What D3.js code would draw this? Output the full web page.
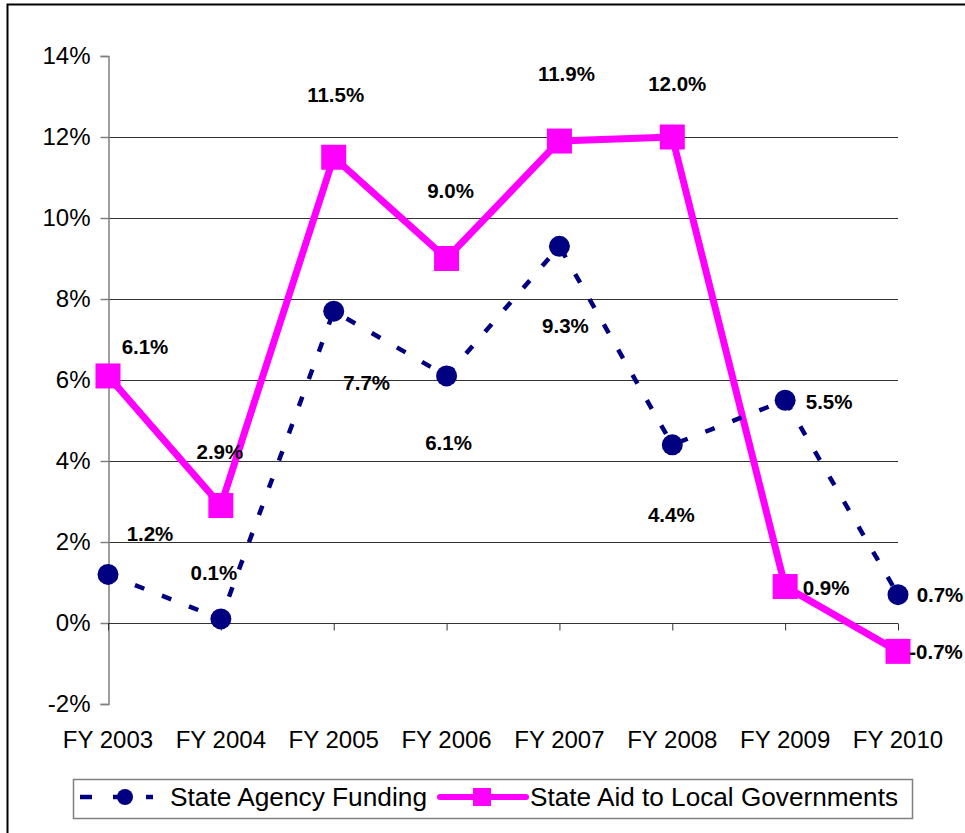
<!DOCTYPE html>
<html>
<head>
<meta charset="utf-8">
<script src="https://d3js.org/d3.v7.min.js"></script>
<style>
  body { margin: 0; background: #fff; }
  svg { display: block; font-family: Arial, "Liberation Sans", sans-serif; }
</style>
</head>
<body>
<svg></svg>
<script>
// data
var years = ['FY 2003', 'FY 2004', 'FY 2005', 'FY 2006', 'FY 2007', 'FY 2008', 'FY 2009', 'FY 2010'];
var agency = [0.012, 0.001, 0.077, 0.061, 0.093, 0.044, 0.055, 0.007];
var localAid = [0.061, 0.029, 0.115, 0.090, 0.119, 0.120, 0.009, -0.007];
var yTicks = [-0.02, 0, 0.02, 0.04, 0.06, 0.08, 0.10, 0.12, 0.14];
var seriesNames = ['State Agency Funding', 'State Aid to Local Governments'];

// where each data label sits relative to its point (px)
var agencyLabelOff = [[42, -41], [-7, -46], [33, 71], [2, 67], [6, 79], [-1, 70], [44, 1], [42, 0]];
var aidLabelOff = [[37, -29], [-1, -54], [2, -63], [4, -68], [7, -67], [5, -53], [41, 1], [38, 0]];

var W = 965, H = 833;
var navy = '#000080', pink = '#ff00ff';

// plain hyphen for negatives, like the original
var loc = d3.formatLocale({decimal: '.', thousands: ',', grouping: [3], currency: ['$', ''], minus: '-'});
var pct0 = loc.format('.0%'), pct1 = loc.format('.1%');

var svg = d3.select('svg').attr('width', W).attr('height', H);

// outer frame (runs off the right/bottom)
svg.append('rect')
    .attr('x', 7.5).attr('y', 4.5)
    .attr('width', 1200).attr('height', 1200)
    .attr('fill', 'none').attr('stroke', '#000').attr('stroke-width', 2);

var x = d3.scalePoint().domain(years).range([108, 898]);
var y = d3.scaleLinear().domain([-0.02, 0.14]).range([704, 56]);

// gridlines (not at top / bottom)
svg.selectAll('.grid')
    .data(yTicks.filter(function(d) { return d > 0.001 && d < 0.13; }))
    .enter().append('line')
    .attr('class', 'grid')
    .attr('x1', 108).attr('x2', 898)
    .attr('y1', function(d) { return Math.round(y(d)) + 0.5; })
    .attr('y2', function(d) { return Math.round(y(d)) + 0.5; })
    .attr('stroke', '#333').attr('stroke-width', 1);

// y axis
var yAxis = svg.append('g')
    .attr('transform', 'translate(108.5,0)')
    .call(d3.axisLeft(y).tickValues(yTicks).tickSize(8).tickPadding(10)
      .tickFormat(pct0));
yAxis.select('.domain').attr('stroke', '#808080').attr('stroke-width', 1.5);
yAxis.selectAll('.tick line').attr('stroke', '#808080').attr('stroke-width', 1.5);
yAxis.selectAll('.tick text')
    .attr('font-size', 24).attr('fill', '#000')
    .attr('font-family', 'Arial, "Liberation Sans", sans-serif');

// x axis along 0%
var xAxis = svg.append('g')
    .attr('transform', 'translate(0,' + (Math.round(y(0)) + 0.5) + ')')
    .call(d3.axisBottom(x).tickSize(7).tickFormat(''));
xAxis.select('.domain').attr('stroke', '#333').attr('stroke-width', 1).attr('d', 'M108,0H898');
xAxis.selectAll('.tick line').attr('stroke', '#333');

// category labels (low position)
svg.selectAll('.cat')
    .data(years)
    .enter().append('text')
    .attr('class', 'cat')
    .attr('x', function(d) { return x(d); })
    .attr('y', 748)
    .attr('text-anchor', 'middle')
    .attr('font-size', 24)
    .text(function(d) { return d; });

var line = d3.line()
    .x(function(d, i) { return x(years[i]); })
    .y(function(d) { return y(d); });

// state aid - solid pink
svg.append('path')
    .datum(localAid)
    .attr('d', line)
    .attr('fill', 'none').attr('stroke', pink)
    .attr('stroke-width', 7).attr('stroke-linejoin', 'round');

svg.selectAll('.sq')
    .data(localAid)
    .enter().append('rect')
    .attr('class', 'sq')
    .attr('x', function(d, i) { return x(years[i]) - 12.5; })
    .attr('y', function(d) { return y(d) - 12.5; })
    .attr('width', 25).attr('height', 25)
    .attr('fill', pink);

// agency - dashed navy
svg.append('path')
    .datum(agency)
    .attr('d', line)
    .attr('fill', 'none').attr('stroke', navy)
    .attr('stroke-width', 4.5).attr('stroke-dasharray', '10,19');

svg.selectAll('.dot')
    .data(agency)
    .enter().append('circle')
    .attr('class', 'dot')
    .attr('cx', function(d, i) { return x(years[i]); })
    .attr('cy', function(d) { return y(d); })
    .attr('r', 10.5)
    .attr('fill', navy);

// data labels
function labels(vals, off, cls) {
  svg.selectAll('.' + cls)
      .data(vals)
      .enter().append('text')
      .attr('class', cls)
      .attr('x', function(d, i) { return x(years[i]) + off[i][0]; })
      .attr('y', function(d, i) { return y(d) + off[i][1]; })
      .attr('dy', '0.36em')
      .attr('text-anchor', 'middle')
      .attr('font-size', 20.5).attr('font-weight', 'bold')
      .text(function(d) { return pct1(d); });
}
labels(localAid, aidLabelOff, 'lblAid');
labels(agency, agencyLabelOff, 'lblAgency');

// legend
var lg = svg.append('g');
lg.append('rect')
    .attr('x', 73.5).attr('y', 779.5)
    .attr('width', 839).attr('height', 39)
    .attr('fill', '#fff').attr('stroke', '#808080').attr('stroke-width', 1.5);

lg.append('line')
    .attr('x1', 80).attr('x2', 153).attr('y1', 797).attr('y2', 797)
    .attr('stroke', navy).attr('stroke-width', 4.5).attr('stroke-dasharray', '12,21');
lg.append('circle').attr('cx', 125).attr('cy', 797).attr('r', 8).attr('fill', navy);
lg.append('text')
    .attr('x', 170).attr('y', 806)
    .attr('font-size', 25)
    .attr('textLength', 257).attr('lengthAdjust', 'spacingAndGlyphs')
    .text(seriesNames[0]);

lg.append('line')
    .attr('x1', 440).attr('x2', 526).attr('y1', 797).attr('y2', 797)
    .attr('stroke', pink).attr('stroke-width', 6).attr('stroke-linecap', 'round');
lg.append('rect').attr('x', 473).attr('y', 788).attr('width', 18).attr('height', 18).attr('fill', pink);
lg.append('text')
    .attr('x', 530).attr('y', 806)
    .attr('font-size', 25)
    .attr('textLength', 368).attr('lengthAdjust', 'spacingAndGlyphs')
    .text(seriesNames[1]);
</script>
</body>
</html>
